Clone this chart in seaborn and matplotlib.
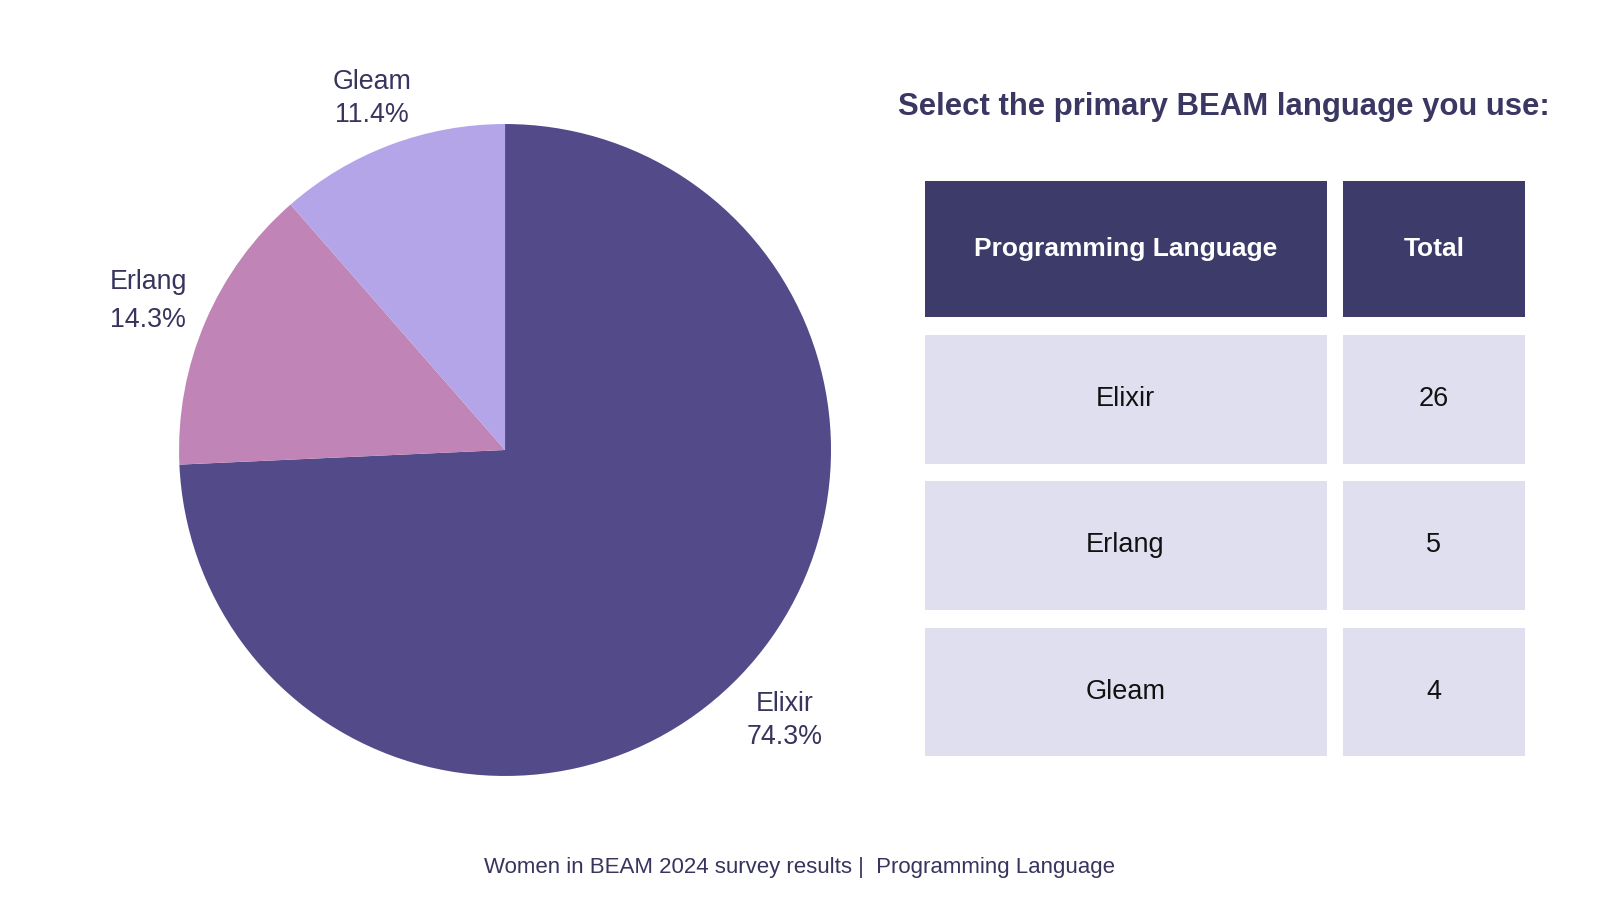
import matplotlib
matplotlib.use("Agg")
import matplotlib.pyplot as plt
from matplotlib.patches import Rectangle
import numpy as np
import seaborn as sns

languages = ["Elixir", "Erlang", "Gleam"]
totals = [26, 5, 4]
header = ["Programming Language", "Total"]
title = "Select the primary BEAM language you use:"
footer = "Women in BEAM 2024 survey results |  Programming Language"

sns.set_theme(style="white")
plt.rcParams['font.family'] = ['Liberation Sans', 'DejaVu Sans']

pie_colors = ["#534a8a", "#c184b6", "#b4a5e8"]
text_color = "#37345e"
header_color = "#3d3b6a"
cell_color = "#e0dfef"

fig = plt.figure(figsize=(16, 9), dpi=100)
fig.patch.set_facecolor("white")

# Pie
ax = fig.add_axes([0.1119, 0.1378, 0.4075, 0.7244])
total = sum(totals)
labels = [f"{n}\n{v / total * 100:.1f}%" for n, v in zip(languages, totals)]
wedges, texts = ax.pie(totals, colors=pie_colors, startangle=90, counterclock=False,
                       labels=labels, labeldistance=1.18, radius=1.0,
                       wedgeprops=dict(linewidth=0),
                       textprops=dict(fontsize=19.3, color=text_color, linespacing=1.35))
label_dist = [1.188, 1.19, 1.163]
label_spacing = [1.35, 1.6, 1.35]
for w, t, r, ls in zip(wedges, texts, label_dist, label_spacing):
    mid = np.deg2rad((w.theta1 + w.theta2) / 2)
    t.set_position((r * np.cos(mid), r * np.sin(mid) - 0.01))
    t.set_ha("center")
    t.set_va("center")
    t.set_linespacing(ls)
ax.set_xlim(-1, 1)
ax.set_ylim(-1, 1)
ax.set_aspect("equal")
ax.axis("off")

# Table axes in pixel coordinates
tax = fig.add_axes([0, 0, 1, 1])
tax.set_xlim(0, 1600)
tax.set_ylim(900, 0)
tax.axis("off")
tax.patch.set_alpha(0)

col_x = [(924.5, 1326.5), (1343, 1524.5)]
row_y = [(180.6, 317.3), (334.7, 464.3), (480.6, 610.2), (627.5, 756.1)]

# header
for (x0, x1), h in zip(col_x, header):
    tax.add_patch(Rectangle((x0, row_y[0][0]), x1 - x0, row_y[0][1] - row_y[0][0],
                            facecolor=header_color, edgecolor="none"))
    tax.text((x0 + x1) / 2, (row_y[0][0] + row_y[0][1]) / 2, h, ha="center", va="center",
             fontsize=19, fontweight="bold", color="white")

for (y0, y1), lang, tot in zip(row_y[1:], languages, totals):
    for (x0, x1), val in zip(col_x, [lang, str(tot)]):
        tax.add_patch(Rectangle((x0, y0), x1 - x0, y1 - y0,
                                facecolor=cell_color, edgecolor="none"))
        tax.text((x0 + x1) / 2, (y0 + y1) / 2, val, ha="center", va="center",
                 fontsize=19.5, color="#111111")

tax.text(1224, 107, title, ha="center", va="center", fontsize=22.4,
         fontweight="bold", color="#3a3763")
tax.text(799, 867, footer, ha="center", va="center", fontsize=16, color=text_color)

fig.savefig("out.png", dpi=100, facecolor="white")
